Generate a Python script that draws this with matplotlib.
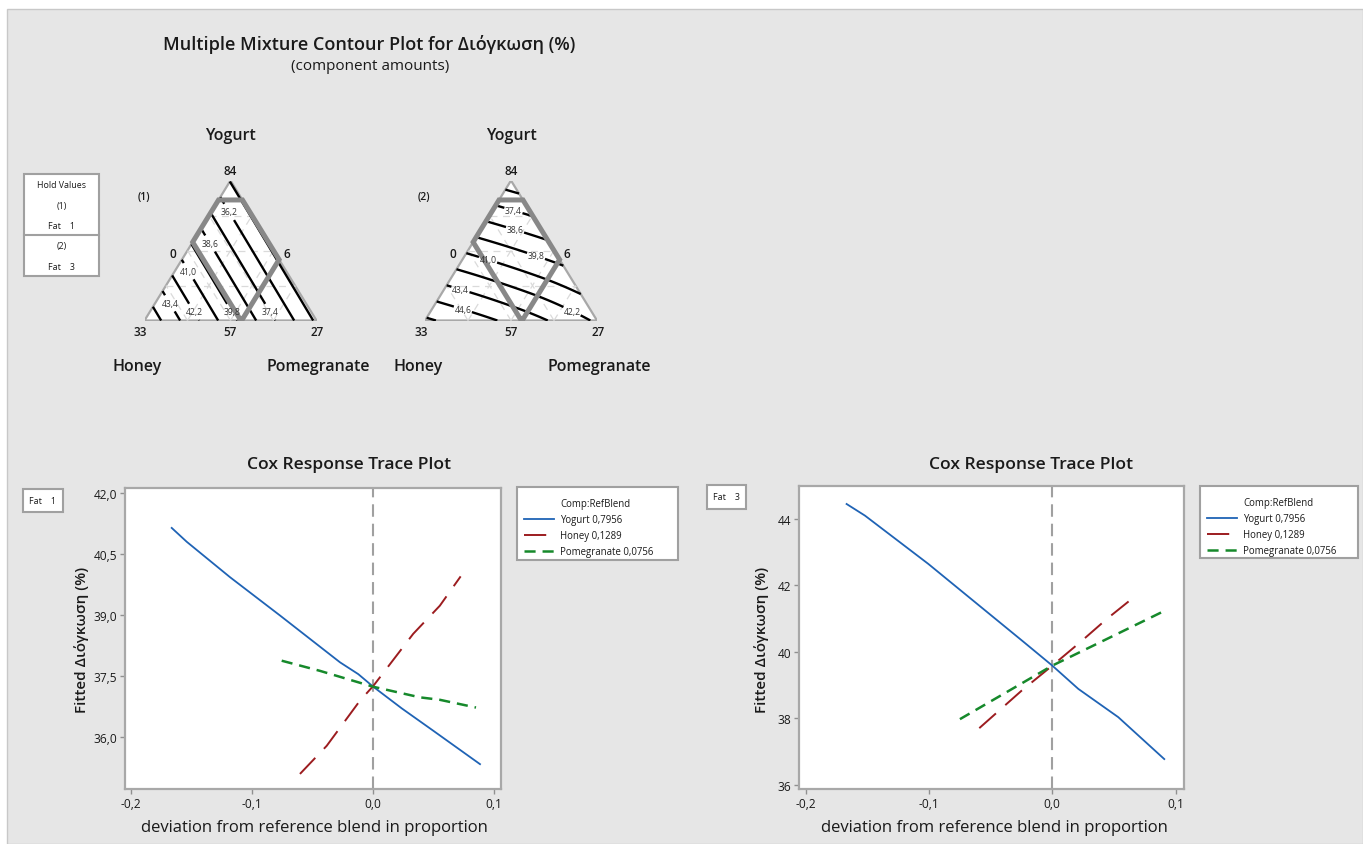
import numpy as np
import matplotlib
matplotlib.use('Agg')
import matplotlib.pyplot as plt
import matplotlib.tri as mtri
from matplotlib.patches import Rectangle, Polygon
from matplotlib.lines import Line2D
from matplotlib.ticker import FuncFormatter

plt.rcParams['font.family'] = ['Open Sans', 'DejaVu Sans']
plt.rcParams['lines.scale_dashes'] = False

# ---------------- DATA ----------------
components = ['Yogurt', 'Honey', 'Pomegranate']
ref_blend = ['0,7956', '0,1289', '0,0756']
fat_hold = [1, 3]
# amount labels on ternary plot
lbl_top, lbl_left, lbl_right, lbl_bottom, lbl_lside, lbl_rside = '84', '33', '27', '57', '0', '6'
# fitted response read at the pseudo-component vertices and edge midpoints
# order: Yogurt, Honey, Pomegranate, Yogurt-Honey mid, Yogurt-Pomegranate mid, Honey-Pomegranate mid
node_resp_fat1 = [34.92, 45.65, 34.79, 40.29, 34.86, 40.22]
node_resp_fat3 = [35.50, 46.00, 42.00, 40.80, 39.10, 44.30]
contour_levels = [35.0, 36.2, 37.4, 38.6, 39.8, 41.0, 42.2, 43.4, 44.6, 45.8]
# constrained region upper bounds (pseudo fractions Yogurt, Honey, Pomegranate)
region_upper = [0.861, 0.44, 0.565]
# contour label locations (Yogurt fraction, Pomegranate fraction)
clabel_fat1 = [(0.775, 0.104), (0.554, 0.110), (0.354, 0.082), (0.132, 0.094),
               (0.061, 0.257), (0.061, 0.478), (0.061, 0.699)]
clabel_fat3 = [(0.775, 0.124), (0.646, 0.200), (0.461, 0.415), (0.432, 0.150),
               (0.211, 0.098), (0.061, 0.185), (0.082, 0.820)]

# Cox response trace, Fat = 1
f1_yog_dev = [-0.1666, -0.1542, -0.1184, -0.0771, -0.0275, -0.0124, 0.0, 0.0235, 0.0496, 0.0882]
f1_yog_fit = [41.14, 40.80, 39.93, 38.99, 37.84, 37.55, 37.24, 36.71, 36.16, 35.34]
f1_hon_dev = [-0.0606, -0.0385, -0.011, 0.0, 0.033, 0.055, 0.0722]
f1_hon_fit = [35.10, 35.79, 36.90, 37.26, 38.54, 39.23, 39.95]
f1_pom_dev = [-0.0757, -0.044, 0.0, 0.0386, 0.055, 0.0849]
f1_pom_fit = [37.88, 37.63, 37.24, 36.98, 36.92, 36.73]
# Cox response trace, Fat = 3
f3_yog_dev = [-0.1668, -0.1519, -0.1006, -0.0235, 0.0, 0.0211, 0.0535, 0.0908]
f3_yog_fit = [44.45, 44.10, 42.65, 40.31, 39.59, 38.89, 38.04, 36.78]
f3_hon_dev = [-0.0592, -0.0248, 0.0, 0.0225, 0.0441, 0.0676]
f3_hon_fit = [37.71, 38.84, 39.59, 40.29, 40.99, 41.69]
f3_pom_dev = [-0.0749, -0.0302, 0.0, 0.0928]
f3_pom_fit = [37.98, 38.94, 39.59, 41.27]

left_yticks = [36.0, 37.5, 39.0, 40.5, 42.0]
right_yticks = [36, 38, 40, 42, 44]
xticks = [-0.2, -0.1, 0.0, 0.1]

# ---------------- FIGURE ----------------
W, H = 1363, 845
fig = plt.figure(figsize=(W / 100, H / 100), dpi=100)
fig.patch.set_facecolor('white')

def fx(x): return x / W
def fy(y): return 1 - y / H
def box(x0, y0, x1, y1): return [fx(x0), fy(y1), (x1 - x0) / W, (y1 - y0) / H]

TXT = '#1a1a1a'
GRAYEDGE = '#a0a0a0'

fig.patches.append(Rectangle((fx(7), 0), 1 - fx(7), fy(10), transform=fig.transFigure,
                             facecolor='#e6e6e6', edgecolor='#c8c8c8', lw=1, zorder=-10))

fig.text(fx(369), fy(45), 'Multiple Mixture Contour Plot for Διόγκωση (%)', ha='center', va='center',
         fontsize=13, fontweight='semibold', color=TXT)
fig.text(fx(370), fy(66), '(component amounts)', ha='center', va='center', fontsize=11, color=TXT)

def bary_xy(a, c):
    return c + a / 2.0, a

def ternary(xL, xR, yTop, yBase, nresp, clpos, tag):
    ax = fig.add_axes(box(xL, yTop, xR, yBase))
    ax.set_xlim(0, 1)
    ax.set_ylim(0, 1)
    ax.axis('off')
    ax.add_patch(Polygon([(0, 0), (1, 0), (0.5, 1)], closed=True, facecolor='white',
                         edgecolor='#a8a8a8', lw=1.6, zorder=1))
    # faint grid
    for g in [0.25, 0.5, 0.75]:
        ax.plot([g / 2, 1 - g / 2], [g, g], color='#dadada', lw=0.9, ls=(0, (5, 4)), zorder=1.5)
        ax.plot([g, g / 2 + 0.5], [0, 1 - g], color='#dadada', lw=0.9, ls=(0, (5, 4)), zorder=1.5)
        ax.plot([1 - g, 0.5 - g / 2], [0, 1 - g], color='#dadada', lw=0.9, ls=(0, (5, 4)), zorder=1.5)
    # nodes: Yogurt apex, Honey left, Pomegranate right, then edge midpoints
    node_x = [0.5, 0.0, 1.0, 0.25, 0.75, 0.5]
    node_y = [1.0, 0.0, 0.0, 0.5, 0.5, 0.0]
    tris = [[1, 5, 3], [5, 2, 4], [3, 4, 0], [5, 4, 3]]
    triang = mtri.Triangulation(node_x, node_y, tris)
    refiner = mtri.UniformTriRefiner(triang)
    interp = mtri.CubicTriInterpolator(triang, nresp, kind='min_E')
    tri_f, z_f = refiner.refine_field(nresp, triinterpolator=interp, subdiv=5)
    cs = ax.tricontour(tri_f, z_f, levels=contour_levels, colors='black', linewidths=1.7, zorder=2)
    manual = [bary_xy(a, c) for a, c in clpos]
    texts = ax.clabel(cs, manual=manual, inline=True, inline_spacing=1, fontsize=6.2,
                      fmt=lambda v: f'{v:.1f}'.replace('.', ','), colors='#333333')
    for t in texts:
        t.set_rotation(0)
    au, bu, cu = region_upper
    pts = [(au, 1 - au, 0), (au, 0, 1 - au), (1 - cu, 0, cu), (0, 1 - cu, cu),
           (0, bu, 1 - bu), (1 - bu, bu, 0)]
    poly = [bary_xy(a, c) for a, b, c in pts]
    ax.add_patch(Polygon(poly, closed=True, fill=False, edgecolor='#888888', lw=3.6,
                         joinstyle='miter', zorder=3))
    xm = (xL + xR) / 2
    kw = dict(ha='center', va='center', fontsize=8.5, fontweight='semibold', color=TXT)
    fig.text(fx(xm), fy(yTop - 10), lbl_top, **kw)
    fig.text(fx(xL - 4), fy(yBase + 11), lbl_left, **kw)
    fig.text(fx(xR + 1), fy(yBase + 11), lbl_right, **kw)
    fig.text(fx(xm), fy(yBase + 11), lbl_bottom, **kw)
    fig.text(fx(xL + 28), fy(254), lbl_lside, **kw)
    fig.text(fx(xR - 30), fy(254), lbl_rside, **kw)
    kw2 = dict(ha='center', va='center', fontsize=11.5, fontweight='semibold', color=TXT)
    fig.text(fx(xm), fy(136), components[0], **kw2)
    fig.text(fx(xL - 7), fy(367), components[1], **kw2)
    fig.text(fx(xR + 2), fy(367), components[2], **kw2)
    fig.text(fx(xL - 1), fy(197), tag, ha='center', va='center', fontsize=7.5,
             fontweight='semibold', color=TXT)

ternary(144.5, 316.5, 181.5, 321.5, node_resp_fat1, clabel_fat1, '(1)')
ternary(425, 597, 181.5, 321.5, node_resp_fat3, clabel_fat3, '(2)')

# Hold values box
fig.patches.append(Rectangle((fx(24), fy(277)), (99 - 24) / W, (277 - 175) / H, transform=fig.transFigure,
                             facecolor='white', edgecolor=GRAYEDGE, lw=1.5, zorder=5))
fig.add_artist(Line2D([fx(24), fx(99)], [fy(236), fy(236)], color=GRAYEDGE, lw=1.5, zorder=6))
for ytxt, s in [(186, 'Hold Values'), (206, '(1)'), (227, f'Fat    {fat_hold[0]}'),
                (247, '(2)'), (268, f'Fat    {fat_hold[1]}')]:
    fig.text(fx(61.5), fy(ytxt), s, ha='center', va='center', fontsize=6.4, color=TXT, zorder=7)

comma = FuncFormatter(lambda v, p: f'{v:.1f}'.replace('.', ','))

def trace(frame, xlim, ylim, yticks, yfmt, series, legend_box, leg_title_y, fat_box, fat_val,
          title_x, ylabel_x, xlabel_x):
    x0, y0, x1, y1 = frame
    ax = fig.add_axes(box(x0, y0, x1, y1))
    ax.set_facecolor('white')
    ax.set_xlim(*xlim)
    ax.set_ylim(*ylim)
    for s in ax.spines.values():
        s.set_color('#a8a8a8')
        s.set_linewidth(1.6)
    ax.tick_params(direction='out', length=3.5, width=1.0, color='#909090', labelsize=8.6,
                   labelcolor=TXT, pad=2)
    ax.set_xticks(xticks)
    ax.xaxis.set_major_formatter(comma)
    ax.set_yticks(yticks)
    ax.yaxis.set_major_formatter(yfmt)
    ax.axvline(0, color='#a0a0a0', lw=1.5, ls=(0, (9, 5)), zorder=1)
    (yd, yf), (hd, hf), (pd_, pf) = series
    l1, = ax.plot(yd, yf, color='#1f63b5', lw=1.3, zorder=3)
    l2, = ax.plot(hd, hf, color='#9c1c1f', lw=1.4, ls=(0, (16, 9)), zorder=3)
    l3, = ax.plot(pd_, pf, color='#16892b', lw=1.8, ls=(0, (8, 5)), zorder=3)
    # legend
    lx0, ly0, lx1, ly1 = legend_box
    fig.patches.append(Rectangle((fx(lx0), fy(ly1)), (lx1 - lx0) / W, (ly1 - ly0) / H,
                                 transform=fig.transFigure, facecolor='white',
                                 edgecolor=GRAYEDGE, lw=1.5, zorder=5))
    blank = Line2D([], [], color='none')
    labels = ['Comp:RefBlend'] + [f'{c} {r}' for c, r in zip(components, ref_blend)]
    leg = fig.legend([blank, l1, l2, l3], labels, loc='upper left',
                     bbox_to_anchor=(fx(lx0 + 5), fy(leg_title_y - 6.5)), frameon=False, fontsize=6.9,
                     handlelength=3.1, handletextpad=0.7, labelspacing=0.52, borderpad=0.2,
                     borderaxespad=0)
    leg.set_zorder(6)
    for t in leg.get_texts():
        t.set_color(TXT)
    # fat box
    bx0, by0, bx1, by1 = fat_box
    fig.patches.append(Rectangle((fx(bx0), fy(by1)), (bx1 - bx0) / W, (by1 - by0) / H,
                                 transform=fig.transFigure, facecolor='white',
                                 edgecolor=GRAYEDGE, lw=1.5, zorder=5))
    fig.text(fx((bx0 + bx1) / 2), fy((by0 + by1) / 2), f'Fat    {fat_val}', ha='center', va='center',
             fontsize=6.4, color=TXT, zorder=7)
    fig.text(fx(title_x), fy(465), 'Cox Response Trace Plot', ha='center', va='center',
             fontsize=12.6, fontweight='semibold', color=TXT)
    fig.text(fx(ylabel_x), fy(640), 'Fitted Διόγκωση (%)', ha='center', va='center', rotation=90,
             fontsize=11, fontweight='semibold', color=TXT)
    fig.text(fx(xlabel_x), fy(828), 'deviation from reference blend in proportion', ha='center',
             va='center', fontsize=12, color=TXT)

trace((125, 489, 500.7, 790), (-0.2052, 0.1053), (34.73, 42.12), left_yticks, comma,
      [(f1_yog_dev, f1_yog_fit), (f1_hon_dev, f1_hon_fit), (f1_pom_dev, f1_pom_fit)],
      (517, 488, 678, 561), 504, (23, 490, 63, 513), fat_hold[0], 349, 82, 314)
trace((799, 486.7, 1184, 790), (-0.2054, 0.1068), (35.88, 45.0), right_yticks,
      FuncFormatter(lambda v, p: f'{v:.0f}'),
      [(f3_yog_dev, f3_yog_fit), (f3_hon_dev, f3_hon_fit), (f3_pom_dev, f3_pom_fit)],
      (1200, 487, 1358, 559), 502.5, (707, 486, 746, 510), fat_hold[1], 1031, 762, 994)

fig.savefig('out.png', dpi=100, facecolor='white')
